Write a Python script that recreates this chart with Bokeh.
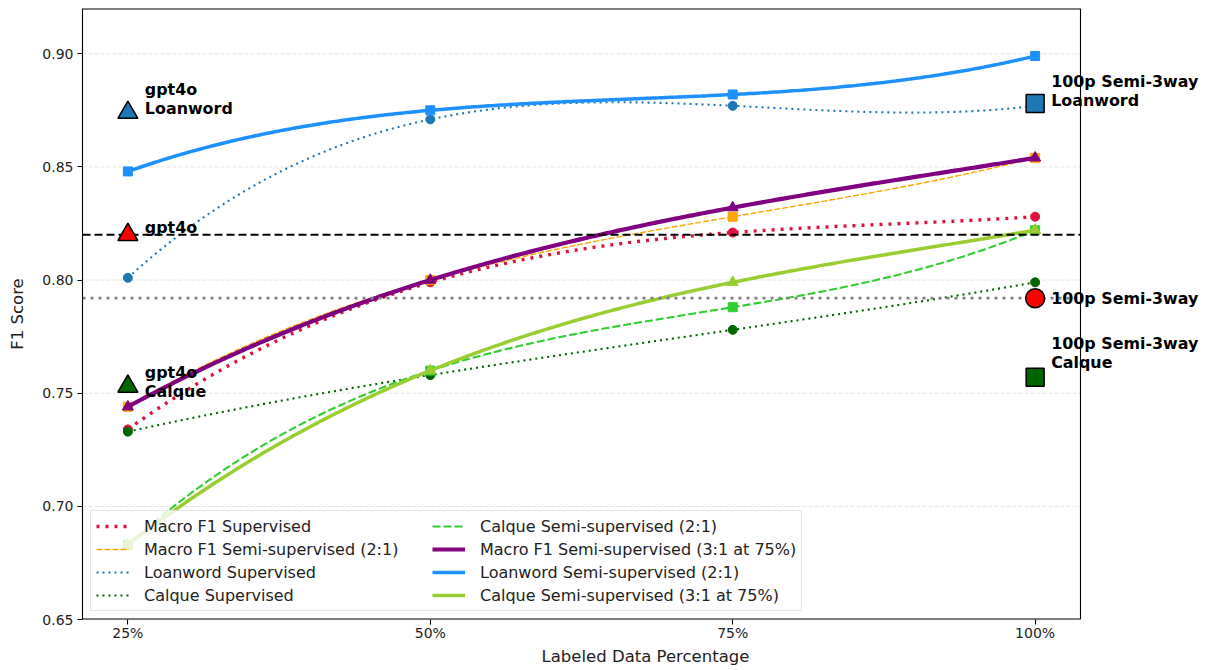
import numpy as np
from bokeh.plotting import figure
from bokeh.models import Range1d, FixedTicker, Legend, LegendItem, Label, NumeralTickFormatter
from bokeh.embed import file_html
from bokeh.resources import INLINE

pct = [25, 50, 75, 100]
pct_labels = {25: "25%", 50: "50%", 75: "75%", 100: "100%"}
y_ticks = [0.65, 0.70, 0.75, 0.80, 0.85, 0.90]
macro_sup = [0.734, 0.799, 0.821, 0.828]
macro_semi21 = [0.744, 0.800, 0.828, 0.854]
loan_sup = [0.801, 0.871, 0.877, 0.877]
calque_sup = [0.733, 0.758, 0.778, 0.799]
calque_semi21 = [0.683, 0.760, 0.788, 0.822]
macro_semi31 = [0.744, 0.800, 0.832, 0.854]
loan_semi21 = [0.848, 0.875, 0.882, 0.899]
calque_semi31 = [0.683, 0.760, 0.799, 0.822]

gpt4o_macro = 0.820
gpt4o_loan = 0.874
gpt4o_calque = 0.753
semi3way_macro = 0.792
semi3way_loan = 0.878
semi3way_calque = 0.757

FONT = "DejaVu Sans"

# visible axes box (matplotlib-like 5% margins)
X0, X1 = 21.25, 103.75
Y0, Y1 = 0.65, 0.92
BOX_W = 998          # px width of the visible axes box
FIG_W, FIG_H = 1208, 668
LEFT, TOP, BOTTOM = 82, 8, 48
FRAME_W = FIG_W - LEFT
x_end = X0 + (X1 - X0) * FRAME_W / BOX_W   # frame extends right so outside labels are not clipped

p = figure(width=FIG_W, height=FIG_H, output_backend="svg", toolbar_location=None,
           x_range=Range1d(X0, x_end), y_range=Range1d(Y0, Y1),
           min_border_left=LEFT, min_border_right=0, min_border_top=TOP, min_border_bottom=BOTTOM)
p.background_fill_color = "white"
p.border_fill_color = "white"
p.outline_line_color = None
p.xgrid.visible = False
p.ygrid.visible = False

p.xaxis.ticker = FixedTicker(ticks=pct)
p.xaxis.major_label_overrides = {k: v for k, v in pct_labels.items()}
p.yaxis.ticker = FixedTicker(ticks=y_ticks)
p.yaxis.formatter = NumeralTickFormatter(format="0.00")
for ax in (p.xaxis, p.yaxis):
    ax.major_label_text_font = FONT
    ax.major_label_text_font_size = "14px"
    ax.major_label_text_color = "#222222"
    ax.axis_label_text_font = FONT
    ax.axis_label_text_font_size = "16.5px"
    ax.axis_label_text_font_style = "normal"
    ax.axis_label_text_color = "#222222"
    ax.major_tick_out = 5
    ax.major_tick_in = 0
    ax.minor_tick_out = 0
    ax.minor_tick_in = 0
    ax.axis_line_color = "black"
    ax.axis_line_width = 1.1
    ax.major_tick_line_width = 1.1
p.xaxis.axis_line_color = None
p.xaxis.axis_label = "Labeled Data Percentage"
p.yaxis.axis_label = "F1 Score"
p.xaxis.major_label_standoff = 0
p.yaxis.major_label_standoff = 4
p.xaxis.axis_label_standoff = 3
p.yaxis.axis_label_standoff = 12

# horizontal grid lines limited to the axes box
for t in y_ticks:
    p.line([X0, X1], [t, t], line_color="#b0b0b0", line_alpha=0.35, line_dash="4 2", line_width=1)

xs = np.linspace(pct[0], pct[-1], 300)

def smooth(vals):
    c = np.polyfit(pct, vals, 3)
    return np.polyval(c, xs)

series = [
    ("Macro F1 Supervised", macro_sup, "#dc143c", 3.4, "3 6", "circle", 9),
    ("Macro F1 Semi-supervised (2:1)", macro_semi21, "#ffa500", 1.4, "6 2", "square", 9),
    ("Loanword Supervised", loan_sup, "#1f77b4", 2.1, "2 4", "circle", 9),
    ("Calque Supervised", calque_sup, "#006400", 2.1, "2 4", "circle", 9),
    ("Calque Semi-supervised (2:1)", calque_semi21, "#32cd32", 2.1, "8 3", "square", 9),
    ("Macro F1 Semi-supervised (3:1 at 75%)", macro_semi31, "#800080", 4.2, None, "triangle", 11),
    ("Loanword Semi-supervised (2:1)", loan_semi21, "#1e90ff", 3.5, None, "square", 9),
    ("Calque Semi-supervised (3:1 at 75%)", calque_semi31, "#9acd32", 3.5, None, "triangle", 11),
]

items = []
for name, vals, color, lw, dash, marker, msize in series:
    kw = {}
    if dash:
        kw["line_dash"] = dash
    r = p.line(xs, smooth(vals), line_color=color, line_width=lw, **kw)
    p.scatter(pct, vals, marker=marker, size=msize, fill_color=color, line_color=color)
    items.append(LegendItem(label=name, renderers=[r]))

# reference lines (limited to the axes box)
p.line([X0, X1], [gpt4o_macro, gpt4o_macro], line_color="black", line_dash="8 4", line_width=2)
p.line([X0, X1], [semi3way_macro, semi3way_macro], line_color="#808080", line_dash="3 5", line_width=2.8)

# gpt4o markers at 25%
p.scatter([pct[0]], [gpt4o_loan], marker="triangle", size=20, fill_color="#1f77b4", line_color="black", line_width=1.5)
p.scatter([pct[0]], [gpt4o_macro], marker="triangle", size=20, fill_color="#ff0000", line_color="black", line_width=1.5)
p.scatter([pct[0]], [gpt4o_calque], marker="triangle", size=20, fill_color="#006400", line_color="black", line_width=1.5)
# 100p semi-3way markers at 100%
p.scatter([pct[-1]], [semi3way_loan], marker="square", size=18, fill_color="#1f77b4", line_color="black", line_width=1.5)
p.scatter([pct[-1]], [semi3way_macro], marker="circle", size=19, fill_color="#ff0000", line_color="black", line_width=1.5)
p.scatter([pct[-1]], [semi3way_calque], marker="square", size=18, fill_color="#006400", line_color="black", line_width=1.5)

# axes box spines (top, right, bottom)
p.line([X0, X1], [Y1, Y1], line_color="black", line_width=2.2)
p.line([X1, X1], [Y0, Y1], line_color="black", line_width=1.1)
p.line([X0, X1], [Y0, Y0], line_color="black", line_width=2.2)

labels = [
    (pct[0], gpt4o_loan, "gpt4o\nLoanword", 17, 14),
    (pct[0], gpt4o_macro, "gpt4o", 17, 7),
    (pct[0], gpt4o_calque, "gpt4o\nCalque", 17, 4),
    (pct[-1], semi3way_loan, "100p Semi-3way\nLoanword", 16, 13),
    (pct[-1], semi3way_macro, "100p Semi-3way", 16, 0),
    (pct[-1], semi3way_calque, "100p Semi-3way\nCalque", 16, 24),
]
for x, y, t, xo, yo in labels:
    p.add_layout(Label(x=x, y=y, text=t, x_offset=xo, y_offset=yo, text_baseline="middle",
                       text_align="left", text_font=FONT, text_font_size="15.9px",
                       text_font_style="bold", text_color="black", text_line_height=1.0))

legend = Legend(items=items, location="bottom_left", ncols=2,
                label_text_font=FONT, label_text_font_size="16px", label_text_color="#222222",
                glyph_width=33, glyph_height=20, label_height=20, label_width=285, label_standoff=15,
                spacing=3, padding=5, margin=8,
                background_fill_alpha=0.8, border_line_color="#cccccc", border_line_width=1)
p.add_layout(legend)

open("out.html", "w").write(file_html(p, INLINE))
